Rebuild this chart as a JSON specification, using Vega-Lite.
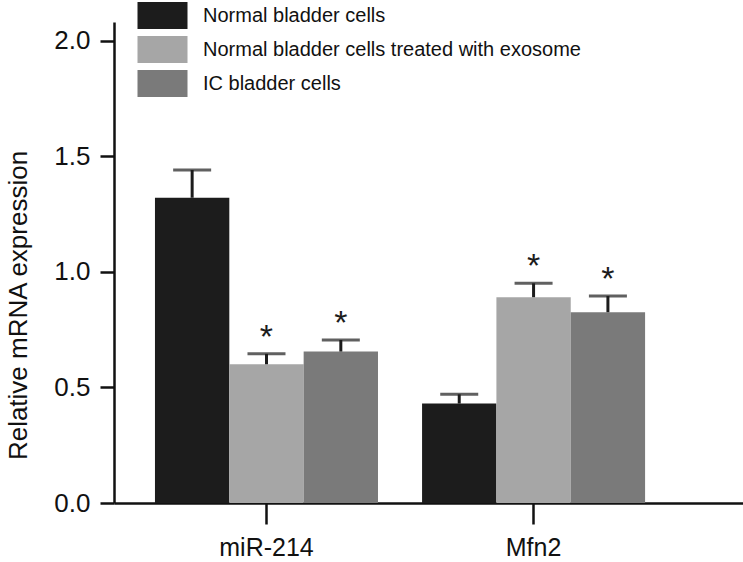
{
  "$schema": "https://vega.github.io/schema/vega-lite/v6.json",
  "width": 629,
  "height": 481,
  "autosize": {"type": "none"},
  "padding": {"left": 114, "top": 22, "right": 0, "bottom": 59},
  "background": "white",
  "config": {
    "view": {"stroke": null},
    "font": "Liberation Sans",
    "axis": {"domainColor": "#111", "tickColor": "#111", "labelColor": "#111", "titleColor": "#111", "grid": false, "domainWidth": 2.5, "tickWidth": 2.5}
  },
  "data": {"values": [
    {"gene": "miR-214", "group": "Normal bladder cells", "value": 1.32, "upper": 1.44, "sig": ""},
    {"gene": "miR-214", "group": "Normal bladder cells treated with exosome", "value": 0.60, "upper": 0.645, "sig": "*"},
    {"gene": "miR-214", "group": "IC bladder cells", "value": 0.655, "upper": 0.705, "sig": "*"},
    {"gene": "Mfn2", "group": "Normal bladder cells", "value": 0.43, "upper": 0.47, "sig": ""},
    {"gene": "Mfn2", "group": "Normal bladder cells treated with exosome", "value": 0.89, "upper": 0.95, "sig": "*"},
    {"gene": "Mfn2", "group": "IC bladder cells", "value": 0.825, "upper": 0.895, "sig": "*"}
  ]},
  "encoding": {
    "x": {"field": "gene", "type": "nominal", "sort": ["miR-214", "Mfn2"],
      "scale": {"paddingInner": 0.165, "paddingOuter": 0.26, "align": 0.295},
      "axis": {"title": null, "labelAngle": 0, "labelFontSize": 25, "tickSize": 21, "labelPadding": 11}},
    "xOffset": {"field": "group", "type": "nominal", "sort": ["Normal bladder cells", "Normal bladder cells treated with exosome", "IC bladder cells"]}
  },
  "layer": [
    {
      "mark": {"type": "bar"},
      "encoding": {
        "y": {"field": "value", "type": "quantitative",
          "scale": {"domain": [0, 2.08], "nice": false},
          "axis": {"values": [0, 0.5, 1, 1.5, 2], "format": ".1f", "title": "Relative mRNA expression", "titleFontSize": 26, "titleFontWeight": "normal", "labelFontSize": 26, "tickSize": 14, "labelPadding": 10, "titleX": -96, "titleY": 283, "titleAlign": "center", "titleBaseline": "middle", "titleAngle": -90}},
        "color": {"field": "group", "type": "nominal",
          "sort": ["Normal bladder cells", "Normal bladder cells treated with exosome", "IC bladder cells"],
          "scale": {"domain": ["Normal bladder cells", "Normal bladder cells treated with exosome", "IC bladder cells"], "range": ["#1c1c1c", "#a6a6a6", "#7a7a7a"]},
          "legend": {"title": null, "orient": "none", "legendX": 36, "legendY": -19, "padding": 0,
            "symbolType": "M-2,-1.08H2V1.08H-2Z", "symbolSize": 625, "symbolStrokeWidth": 0, "symbolOpacity": 1,
            "labelFontSize": 20, "labelColor": "#111", "rowPadding": 7, "labelOffset": 28, "labelLimit": 600}}
      }
    },
    {
      "mark": {"type": "rule", "color": "#1c1c1c", "strokeWidth": 3},
      "encoding": {
        "y": {"field": "value", "type": "quantitative"},
        "y2": {"field": "upper"}
      }
    },
    {
      "mark": {"type": "tick", "color": "#1c1c1c", "thickness": 3, "size": 38},
      "encoding": {
        "y": {"field": "upper", "type": "quantitative"}
      }
    },
    {
      "mark": {"type": "text", "fontSize": 34, "color": "#1c1c1c", "baseline": "alphabetic", "dy": -6},
      "encoding": {
        "y": {"field": "upper", "type": "quantitative"},
        "text": {"field": "sig"}
      }
    }
  ]
}
